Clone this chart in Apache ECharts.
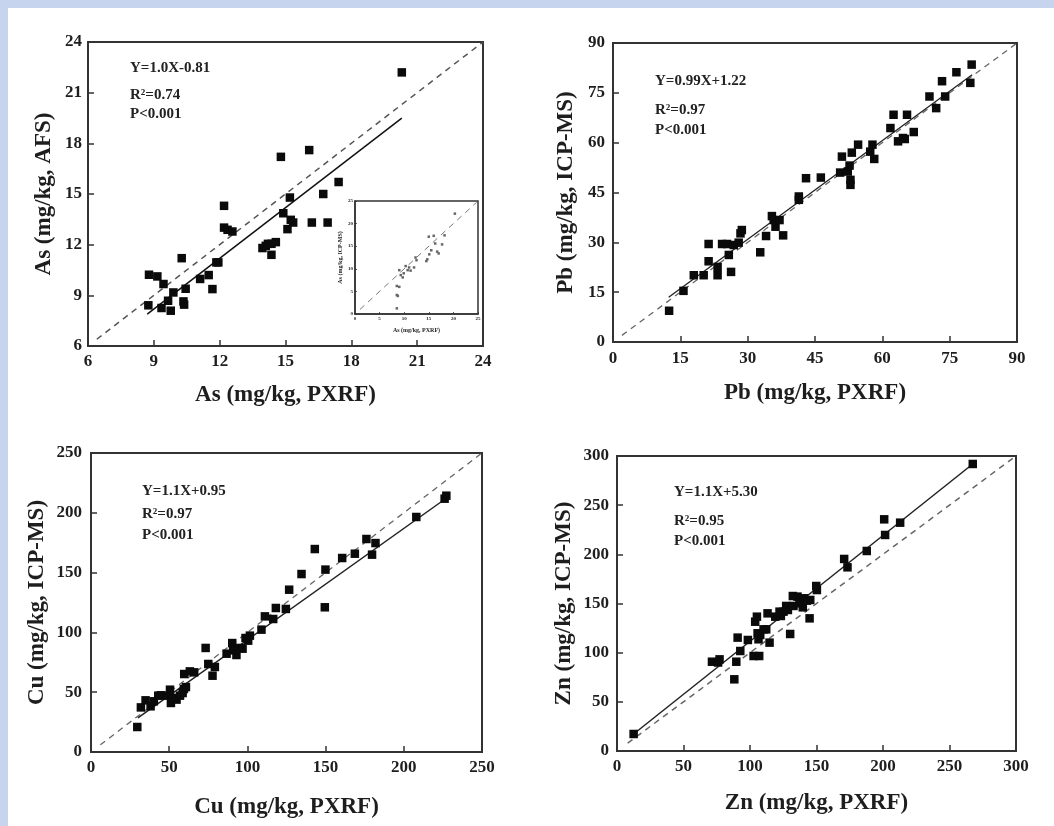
<!DOCTYPE html>
<html>
<head>
<meta charset="utf-8">
<script src="https://cdn.jsdelivr.net/npm/echarts@6/dist/echarts.min.js"></script>
<style>
html,body{margin:0;padding:0;background:#c6d4ee;}
#bg{position:absolute;left:8px;top:8px;right:0;bottom:0;background:#ffffff;}
#chart{position:absolute;left:0;top:0;width:1054px;height:826px;}
</style>
</head>
<body>
<div id="bg"></div>
<div id="chart"></div>
<script>
// ---------- Data ----------
// As panel (PXRF vs AFS)
const asX = [8.78,9.16,9.44,10.27,9.89,10.45,9.65,9.35,9.77,10.35,10.38,8.75,11.11,11.5,11.67,11.85,11.94,12.2,12.2,12.36,12.58,13.95,14.1,14.2,14.36,14.56,14.36,14.79,14.9,15.09,15.2,15.24,15.35,16.08,16.2,16.72,16.92,17.42,20.3];
const asY = [10.22,10.12,9.67,11.2,9.17,9.39,8.68,8.25,8.09,8.64,8.45,8.41,9.97,10.2,9.37,10.95,10.95,14.3,13.01,12.88,12.78,11.8,11.93,12.05,12.05,12.15,11.4,17.2,13.86,12.92,14.79,13.47,13.31,17.6,13.31,15.0,13.31,15.71,22.2];
const asTicks = [6,9,12,15,18,21,24];
const asFitX = [8.7,20.3];
const asOneToOne = [6.4,24];
const asStats = ['Y=1.0X-0.81','R²=0.74','P<0.001'];

// Inset of As panel (PXRF vs ICP-MS)
const insetX = [8.5,8.5,8.7,8.5,9.0,9.0,9.3,9.7,9.9,10.3,10.7,11.0,11.3,12.0,12.3,12.5,14.5,14.7,15.0,16.0,16.3,15.5,15.1,16.7,17.0,17.7,18.2,20.3];
const insetY = [6.2,4.2,4.0,1.25,6.0,9.7,8.6,8.1,9.0,10.6,9.7,10.3,9.6,10.3,12.5,11.9,11.7,12.1,17.1,17.3,15.6,14.1,13.2,13.8,13.4,15.4,17.4,22.2];
const insetTicks = [0,5,10,15,20,25];
const insetOneToOne = [1,24.7];

// Pb panel
const pbX = [12.5,15.7,18,20.2,21.3,21.3,23.3,23.3,24.3,25.4,25.8,26.3,26.9,28,28.4,28.7,32.8,34.1,35.4,35.8,36.2,37.1,37.9,41.4,41.4,43,46.3,50.6,51,52.3,52.7,52.9,52.9,53.2,54.6,57.3,57.8,58.2,61.8,62.5,63.5,64.6,65,65.5,67,70.5,72,73.3,74,76.5,79.6,79.9];
const pbY = [9.4,15.4,20.1,20.1,29.5,24.3,22.6,20.1,29.5,29.5,26.2,21.1,29.2,29.9,32.7,33.7,27,31.9,37.9,36.7,34.7,36.7,32.1,43.8,42.8,49.3,49.5,51,55.8,51.3,53.1,48.8,47.3,57,59.4,57.3,59.4,55.1,64.4,68.4,60.4,61.4,61.1,68.4,63.2,73.9,70.4,78.5,73.9,81.2,78,83.5];
const pbTicks = [0,15,30,45,60,75,90];
const pbFitX = [12.4,80];
const pbOneToOne = [2,90];
const pbStats = ['Y=0.99X+1.22','R²=0.97','P<0.001'];

// Cu panel
const cuX = [29.6,31.9,34.9,38.1,40.2,43,44.7,48.3,50.5,51.1,53,54.7,56.9,58.6,59.4,60.7,59.6,63.2,66,73.3,75,77.7,79.2,86.7,90.3,90.9,93,95.2,96.9,98.8,100.5,101.6,109,111.2,116.5,118.2,124.6,126.7,134.6,143.1,149.5,149.9,160.6,168.7,176.1,179.7,181.9,208,226.1,227.2];
const cuY = [20.9,37.3,43.2,38.2,42.4,47.1,47.4,47.1,52.1,41,45.2,43.8,47.1,49.3,52.7,54.3,65.2,67.4,66.6,87,73.6,63.8,71.1,82.2,91.1,85,81.1,87,86.4,95.3,93.1,97.3,102.3,113.4,111.2,120.4,119.6,135.7,148.8,169.7,121,152.5,162.2,165.8,178.1,165,174.7,196.5,211.8,214.3];
const cuTicks = [0,50,100,150,200,250];
const cuFitX = [30,228];
const cuFitY = [28.5,213];
const cuOneToOne = [6,250];
const cuStats = ['Y=1.1X+0.95','R²=0.97','P<0.001'];

// Zn panel
const znX = [12.5,71.4,77.1,76,89.7,88.2,90.7,92.7,98.4,102.7,103.9,105.2,105.7,106.4,106.9,107.7,110.2,112.2,113.2,114.7,119,122.2,123.2,125.2,127.2,128.5,130.2,132.7,132.2,135.7,137.2,139.7,140.7,142.8,144.8,145.3,149.8,150.3,170.8,173.3,187.8,200.9,201.6,212.9,267.5];
const znY = [17.3,90.8,93.2,90,90.8,72.9,115.3,101.7,112.9,96.6,131.5,136.6,119.7,113.6,96.6,118,123.7,123.7,140,110.2,136.6,141.7,137.3,141.7,147.5,143.4,119,147.5,157.6,157,150.2,146.1,155.3,152.9,134.9,153.6,167.8,163.7,195.3,186.8,203.4,235.6,219.7,232.2,291.9];
const znTicks = [0,50,100,150,200,250,300];
const znFitX = [12.5,267.5];
const znFitY = [17.3,291.9];
const znOneToOne = [8,300];
const znStats = ['Y=1.1X+5.30','R²=0.95','P<0.001'];

// ---------- Helpers ----------
const FONT = "'Liberation Serif','Times New Roman',serif";
const zip = (a,b) => a.map((v,i)=>[v,b[i]]);
const lin = (k,b) => x => k*x+b;

function axis(gi, ticks, name, nameGap, margin, opts){
  opts = opts || {};
  return {
    type:'value', gridIndex:gi,
    min:ticks[0], max:ticks[ticks.length-1], interval:ticks[1]-ticks[0],
    name:name, nameLocation:'middle', nameGap:nameGap,
    nameTextStyle:{fontFamily:FONT,fontWeight:'bold',fontSize:opts.nameSize||23,color:'#1e1e1e'},
    axisLine:{show:true,onZero:false,lineStyle:{color:'#333',width:opts.lw||2}},
    axisTick:{show:true,inside:true,length:opts.tl||6,lineStyle:{color:'#333',width:opts.tw||1.5}},
    axisLabel:{fontFamily:FONT,fontWeight:'bold',fontSize:opts.labelSize||17,color:'#1e1e1e',margin:margin},
    splitLine:{show:false}
  };
}
function scatter(xi, xs, ys, size, color){
  return {type:'scatter',xAxisIndex:xi,yAxisIndex:xi,symbol:'rect',symbolSize:size,
    itemStyle:{color:color||'#0a0a0a',opacity:1},data:zip(xs,ys),silent:true,z:3};
}
function line(xi, xs, ys, dashed, color, width){
  return {type:'line',xAxisIndex:xi,yAxisIndex:xi,symbol:'none',silent:true,z:2,
    lineStyle:{color:color,width:width,type:dashed?[6,5]:'solid'},data:zip(xs,ys)};
}
function statText(x, ys, lines){
  return lines.map((t,i)=>({type:'text',z:10,style:{text:t,x:x,y:ys[i],
    font:'bold 15px '+FONT,fill:'#222',verticalAlign:'middle',align:'left'}}));
}

const asFit = lin(1.0,-0.81), pbFit = lin(0.99,1.22);

const grids = [
  {left:88,top:42,width:395,height:304},
  {left:613,top:43,width:404,height:299},
  {left:91,top:453,width:391,height:299},
  {left:617,top:456,width:399,height:295},
  {left:355,top:201,width:123,height:113}
].map(g=>Object.assign({show:true,borderColor:'#333',borderWidth:2,backgroundColor:'#fff'},g));
grids[4].borderWidth = 1.5;

const option = {
  animation:false,
  grid:grids,
  xAxis:[
    axis(0,asTicks,'As (mg/kg, PXRF)',38,7),
    axis(1,pbTicks,'Pb (mg/kg, PXRF)',40,8),
    axis(2,cuTicks,'Cu (mg/kg, PXRF)',44,7),
    axis(3,znTicks,'Zn (mg/kg, PXRF)',41,7),
    axis(4,insetTicks,'As (mg/kg, PXRF)',13,2,{nameSize:6,labelSize:5,lw:1.5,tl:2,tw:0.8})
  ],
  yAxis:[
    axis(0,asTicks,'As (mg/kg, AFS)',32,6),
    axis(1,pbTicks,'Pb (mg/kg, ICP-MS)',35,8),
    axis(2,cuTicks,'Cu (mg/kg, ICP-MS)',42,9),
    axis(3,znTicks,'Zn (mg/kg, ICP-MS)',41,8),
    axis(4,insetTicks,'As (mg/kg, ICP-MS)',12,2,{nameSize:6,labelSize:5,lw:1.5,tl:2,tw:0.8})
  ],
  series:[
    line(0,asOneToOne,asOneToOne,true,'#555',1.5),
    line(0,asFitX,asFitX.map(asFit),false,'#111',1.5),
    scatter(0,asX,asY,8.5),
    line(1,pbOneToOne,pbOneToOne,true,'#666',1.3),
    line(1,pbFitX,pbFitX.map(pbFit),false,'#222',1.3),
    scatter(1,pbX,pbY,8.5),
    line(2,cuOneToOne,cuOneToOne,true,'#666',1.3),
    line(2,cuFitX,cuFitY,false,'#222',1.5),
    scatter(2,cuX,cuY,8.5),
    line(3,znOneToOne,znOneToOne,true,'#666',1.5),
    line(3,znFitX,znFitY,false,'#222',1.5),
    scatter(3,znX,znY,8.5),
    line(4,insetOneToOne,insetOneToOne,true,'#777',1),
    scatter(4,insetX,insetY,2.5,'#666')
  ],
  graphic:[].concat(
    statText(130,[68,95,114],asStats),
    statText(655,[81,110,130],pbStats),
    statText(142,[491,514,535],cuStats),
    statText(674,[492,521,541],znStats)
  )
};

const chart = echarts.init(document.getElementById('chart'),null,{renderer:'canvas'});
chart.setOption(option);
</script>
</body>
</html>
